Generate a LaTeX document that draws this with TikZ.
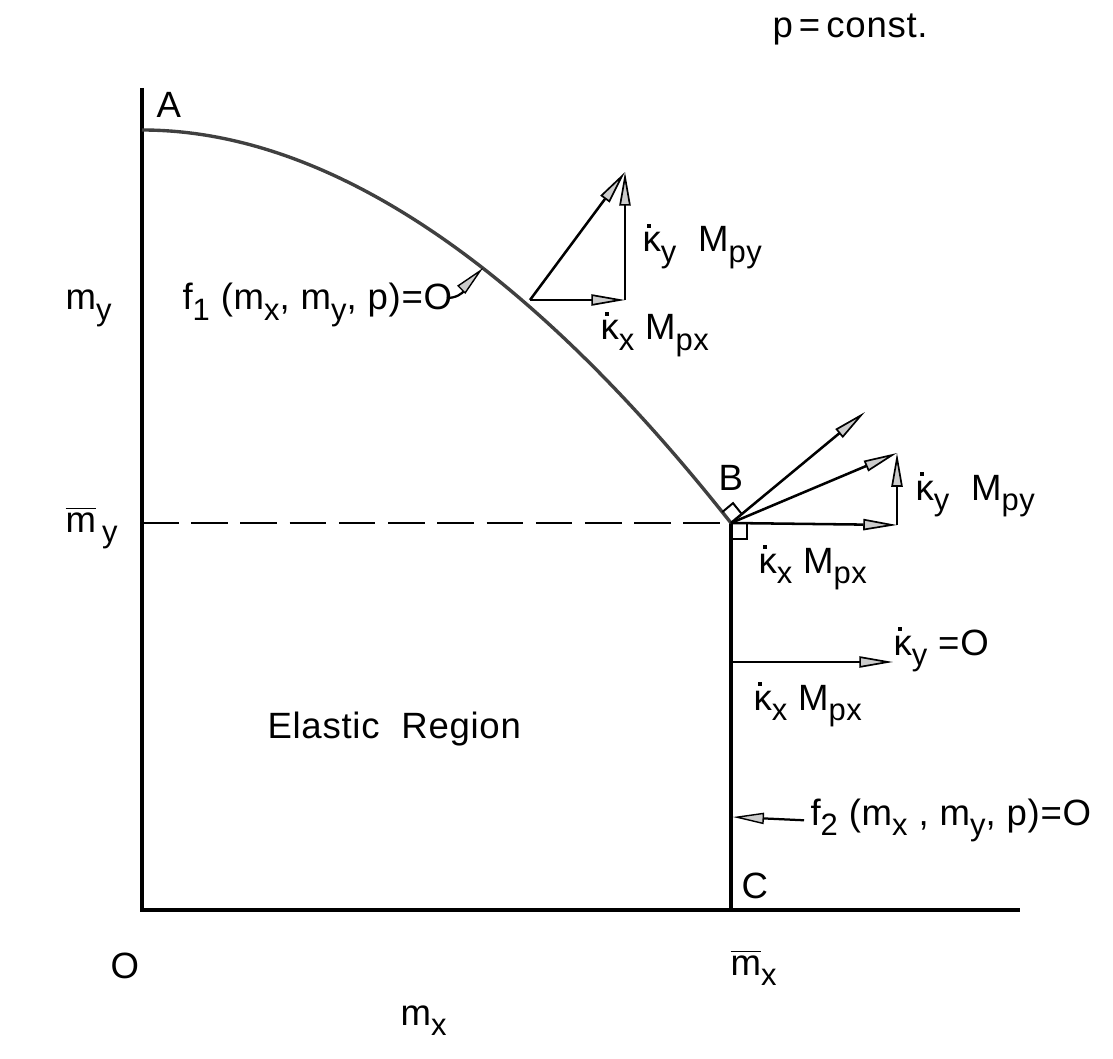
\documentclass[tikz,border=0pt]{standalone}
\usepackage{fontspec}
\setmainfont{Liberation Sans}[LetterSpace=2]
\usetikzlibrary{arrows.meta,calc}

\newcommand{\lettering}{\fontsize{13}{15}\selectfont}
\newcommand{\sbs}[1]{\raisebox{-0.55ex}{\fontsize{11}{12}\selectfont #1}}
\newcommand{\kapdot}{\leavevmode\rlap{\hspace{0.13em}\raisebox{0.66em}{\rule{1.4pt}{1.4pt}}}κ}
\newcommand{\mbar}{\mbox{$\overline{\mbox{m}}$}}

\tikzset{
  lbl/.style={font=\lettering, inner sep=0pt, anchor=base west},
  axis/.style={line width=1.1pt},
  vec/.style={line width=0.9pt, -{Triangle[length=12pt,width=4pt,fill=gray!40,line width=0.6pt]}},
  leader/.style={line width=0.8pt, -{Triangle[length=11pt,width=4pt,fill=gray!40,line width=0.5pt]}},
}

\begin{document}
\begin{tikzpicture}[x=0.0125cm,y=-0.0125cm]
    \useasboundingbox (0,0) rectangle (1113,1059);
    % Points
    \coordinate (O) at (142,910);
    \coordinate (ytop) at (142,88);
    \coordinate (xend) at (1020,910);
    \coordinate (A) at (142,130);
    \coordinate (B) at (731,523);
    \coordinate (C) at (731,910);
    \coordinate (dashstart) at (142,523);
    % Axes
    \draw[axis] (ytop) -- (O) -- (xend);
    \draw[axis] (B) -- (C);
    \draw[line width=0.9pt, dash pattern=on 13pt off 4.5pt] (dashstart) -- (B);
    % Yield curve f1
    \draw[line width=1.2pt, black!75] (A) .. controls (390,130) and (610,370) .. (B);
    % Vectors on f1
    \coordinate (p1) at (530,300);
    \coordinate (p1tip) at (625,172);
    \coordinate (p1corner) at (625,300);
    \draw[vec] (p1) -- (p1tip);
    \draw[vec] (p1) -- (p1corner);
    \draw[vec] (p1corner) -- (p1tip);
    \node[lbl] (ky1) at (642,252) {\kapdot\sbs{y}\ \ M\sbs{py}};
    \node[lbl] (kx1) at (600,340) {\kapdot\sbs{x} M\sbs{px}};
    % f1 label
    \coordinate (f1pt) at (483,268);
    \node[lbl] (f1) at (182,310) {f\sbs{1} (m\sbs{x}, m\sbs{y}, p)=O};
    \coordinate (f1lead) at (447,298);
    \draw[leader] (f1lead) to[out=0,in=225] (f1pt);
    % Vectors at corner B
    \coordinate (bnorm) at (865,412);
    \coordinate (bcorner) at (897,525);
    \coordinate (btip) at (897,453);
    \draw[vec] (B) -- (bnorm);
    \draw[vec] (B) -- (btip);
    \draw[vec] (B) -- (bcorner);
    \draw[vec] (bcorner) -- (btip);
    \draw[line width=0.7pt] ($(B)+(16,0)$) -- ++(0,16) -- ++(-16,0);
    \draw[line width=0.7pt] ($(B)+(-8.75,-10.9)$) -- ($(B)+(2,-19.86)$) -- ($(B)+(10.75,-8.96)$);
    \node[lbl] (Blbl) at (718,490) {B};
    \node[lbl] (ky2) at (915,500) {\kapdot\sbs{y}\ \ M\sbs{py}};
    \node[lbl] (kx2) at (758,573) {\kapdot\sbs{x}\ M\sbs{px}};
    % Vector on f2
    \coordinate (p2) at (731,662);
    \coordinate (p2tip) at (893,662);
    \draw[vec] (p2) -- (p2tip);
    \node[lbl] (ky3) at (893,655) {\kapdot\sbs{y} =O};
    \node[lbl] (kx3) at (753,710) {\kapdot\sbs{x} M\sbs{px}};
    % f2 label
    \node[lbl] (f2) at (810,825) {f\sbs{2} (m\sbs{x} , m\sbs{y}, p)=O};
    \coordinate (f2pt) at (733,817);
    \draw[leader] ($(f2.west)+(-6,0)$) -- (f2pt);
    % Labels
    \node[lbl] (Albl) at (156,118) {A};
    \node[lbl] (Clbl) at (741,898) {C};
    \node[lbl] (Olbl) at (110,978) {O};
    \node[lbl] (mxbar) at (730,975) {\mbar\sbs{x}};
    \node[lbl] (mx) at (400,1025) {m\sbs{x}};
    \node[lbl] (my) at (65,310) {m\sbs{y}};
    \node[lbl] (mybar) at (65,532) {\mbar\,\sbs{y}};
    \node[lbl] (elastic) at (267,738) {Elastic\ \ Region};
    \node[lbl] (pconst) at (772,38) {p\,=\,const.};
\end{tikzpicture}
\end{document}
